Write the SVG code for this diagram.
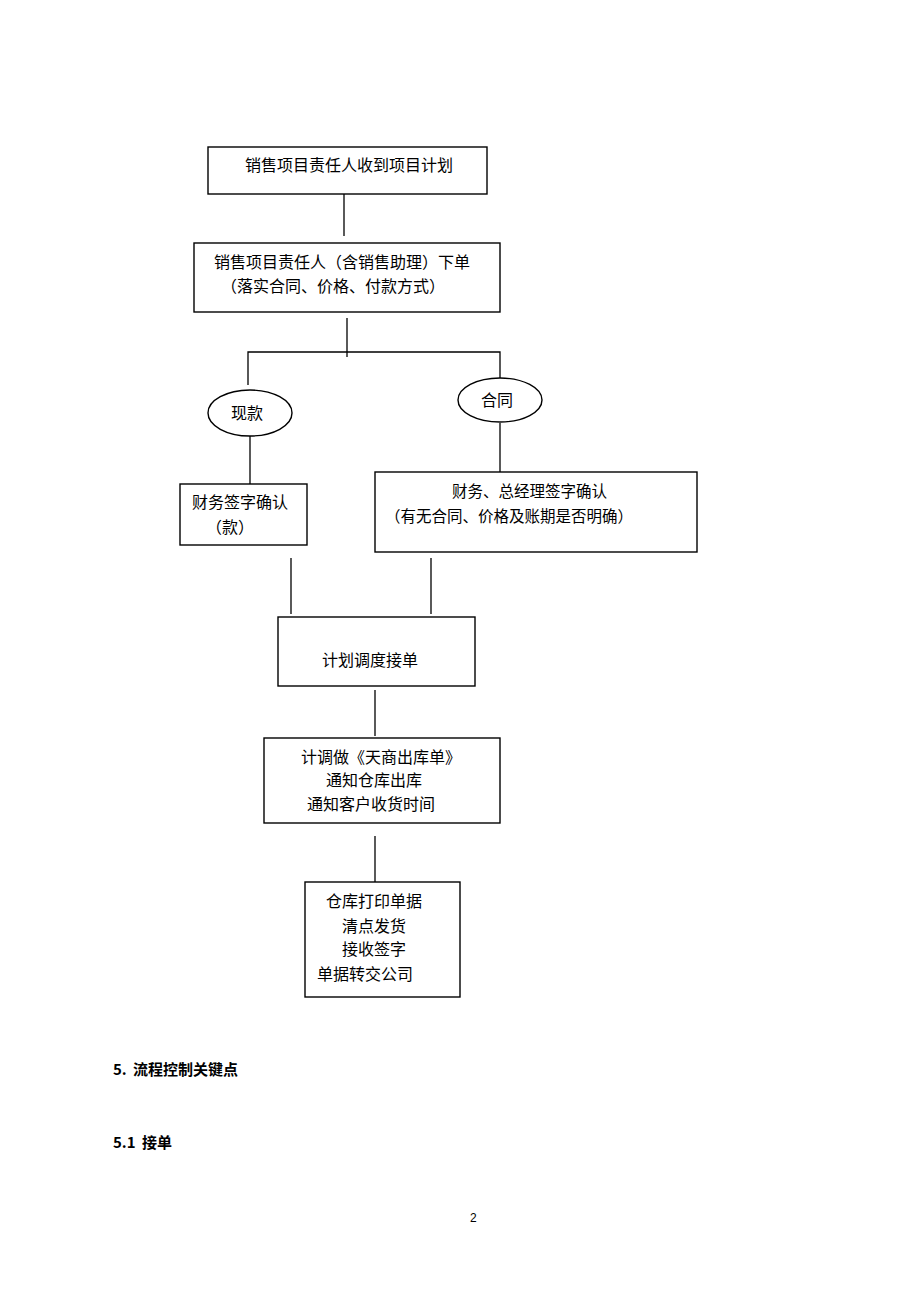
<svg xmlns="http://www.w3.org/2000/svg" width="920" height="1302" viewBox="0 0 920 1302">
<style>
.b{fill:#fff;stroke:#000;stroke-width:1.4}
.c line,.c polyline{stroke:#000;stroke-width:1.3;fill:none}
.t{font-family:"Noto Sans CJK SC","Noto Sans",sans-serif;font-size:16px;fill:#000}
.s{font-size:15.5px}
.h{font-family:"Noto Sans CJK SC","Noto Sans",sans-serif;font-size:15px;font-weight:bold;fill:#000}
</style>
<rect width="920" height="1302" fill="#fff"/>
<g class="c" id="connectors">
<line x1="344" y1="194" x2="344" y2="236"/>
<line x1="347" y1="318" x2="347" y2="357"/>
<polyline points="248,385 248,352 500,352 500,385"/>
<line x1="250" y1="435" x2="250" y2="484"/>
<line x1="500" y1="423" x2="500" y2="472"/>
<line x1="291" y1="558" x2="291" y2="614"/>
<line x1="431" y1="558" x2="431" y2="614"/>
<line x1="375" y1="690" x2="375" y2="736"/>
<line x1="375" y1="836" x2="375" y2="882"/>
</g>
<g id="n1"><rect class="b" x="208" y="147" width="279" height="47"/><text class="t" x="245" y="171">销售项目责任人收到项目计划</text></g>
<g id="n2"><rect class="b" x="194" y="243" width="306" height="69"/><text class="t" x="214" y="268">销售项目责任人（含销售助理）下单</text><text class="t" x="221" y="292">（落实合同、价格、付款方式）</text></g>
<g id="n3"><ellipse class="b" cx="250" cy="413" rx="42" ry="23"/><text class="t" x="231" y="419">现款</text></g>
<g id="n4"><ellipse class="b" cx="500" cy="400" rx="42" ry="22"/><text class="t" x="481" y="406">合同</text></g>
<g id="n5"><rect class="b" x="180" y="484" width="127" height="61"/><text class="t" x="192" y="508">财务签字确认</text><text class="t" x="206" y="533">（款）</text></g>
<g id="n6"><rect class="b" x="375" y="472" width="322" height="80"/><text class="t s" x="452" y="497">财务、总经理签字确认</text><text class="t s" x="385" y="522">（有无合同、价格及账期是否明确）</text></g>
<g id="n7"><rect class="b" x="278" y="617" width="197" height="69"/><text class="t" x="322" y="666">计划调度接单</text></g>
<g id="n8"><rect class="b" x="264" y="738" width="236" height="85"/><text class="t" x="301" y="763">计调做《天商出库单》</text><text class="t" x="326" y="786">通知仓库出库</text><text class="t" x="307" y="810">通知客户收货时间</text></g>
<g id="n9"><rect class="b" x="305" y="882" width="155" height="115"/><text class="t" x="326" y="907">仓库打印单据</text><text class="t" x="342" y="932">清点发货</text><text class="t" x="342" y="955">接收签字</text><text class="t" x="317" y="980">单据转交公司</text></g>
<text class="h" x="113" y="1075">5.</text><text class="h" x="133" y="1075">流程控制关键点</text>
<text class="h" x="113" y="1148">5.1</text><text class="h" x="142" y="1148">接单</text>
<text x="470" y="1222" style="font-family:'Liberation Sans',sans-serif;font-size:12px">2</text>
</svg>
